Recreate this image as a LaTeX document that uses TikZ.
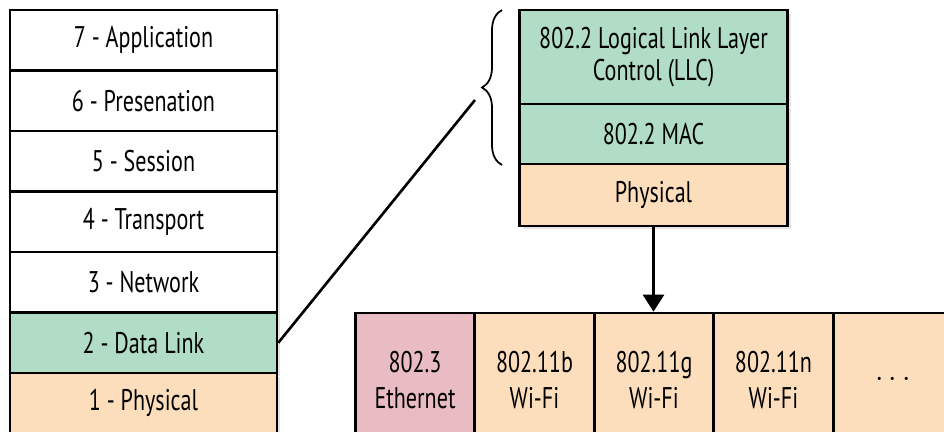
\documentclass[tikz,border=0pt]{standalone}
\usepackage{fontspec}
\setmainfont[FakeStretch=0.74]{PT Sans}
\usepackage{xcolor}
\usepackage{tikz}
\usetikzlibrary{arrows.meta,decorations.pathreplacing,shadows}

\definecolor{linkgreen}{RGB}{177,220,198}
\definecolor{physpeach}{RGB}{252,222,188}
\definecolor{ethpink}{RGB}{233,187,194}

\begin{document}
\begin{tikzpicture}[x=0.02cm, y=-0.02cm,
        layer/.style={draw, line width=1.5pt, fill=white, inner sep=0pt, align=center,
            font=\fontsize{17}{18.5}\selectfont,
            drop shadow={shadow xshift=0.07cm, shadow yshift=-0.07cm, opacity=0.2}},
        osi/.style={layer, minimum width=5.34cm, minimum height=1.21cm},
        sub/.style={layer, minimum width=5.36cm},
        medium/.style={layer, fill=physpeach, minimum width=2.39cm, minimum height=2.68cm,
            font=\fontsize{17}{20}\selectfont},
        brace/.style={decorate, decoration={brace, amplitude=0.4cm}, line width=1pt}]
                \clip (0, 0) rectangle (944, 432);
                \fill[white] (0, 0) rectangle (944, 432);

                % OSI stack
                \node[osi] (app) at (143.5, 40.25) {7 - Application};
                \node[osi] (pres) at (143.5, 100.75) {6 - Presenation};
                \node[osi] (sess) at (143.5, 161.25) {5 - Session};
                \node[osi] (trans) at (143.5, 221.75) {4 - Transport};
                \node[osi] (net) at (143.5, 282.25) {3 - Network};
                \node[osi, fill=linkgreen] (dl) at (143.5, 342.75) {2 - Data Link};
                \node[osi, fill=physpeach] (phys) at (143.5, 403.25) {1 - Physical};

                % 802 stack
                \node[sub, fill=linkgreen, minimum height=1.88cm] (llc) at (653.5, 57) {802.2 Logical Link Layer\\Control (LLC)};
                \node[sub, fill=linkgreen, minimum height=1.2cm] (mac) at (653.5, 134) {802.2 MAC};
                \node[sub, fill=physpeach, minimum height=1.24cm] (rphys) at (653.5, 195) {Physical};

                % media
                \node[medium, fill=ethpink] (eth) at (415, 380) {802.3\\Ethernet};
                \node[medium] (wifib) at (534.5, 380) {802.11b\\Wi-Fi};
                \node[medium] (wifig) at (654, 380) {802.11g\\Wi-Fi};
                \node[medium] (wifin) at (773.5, 380) {802.11n\\Wi-Fi};
                \node[medium] (more) at (893, 380) {$\cdots$};

                \coordinate (bracetop) at (502, 10);
                \coordinate (bracebot) at (502, 165);
                \coordinate (bracetip) at (475, 100);

                \draw[brace] (bracebot) -- (bracetop);
                \draw[line width=1.5pt] (dl.east) -- (bracetip);
                \draw[line width=1.5pt, -{Triangle[width=0.42cm, length=0.34cm]}] (rphys.south) -- (rphys.south |- wifig.north);
            \end{tikzpicture}
\end{document}
